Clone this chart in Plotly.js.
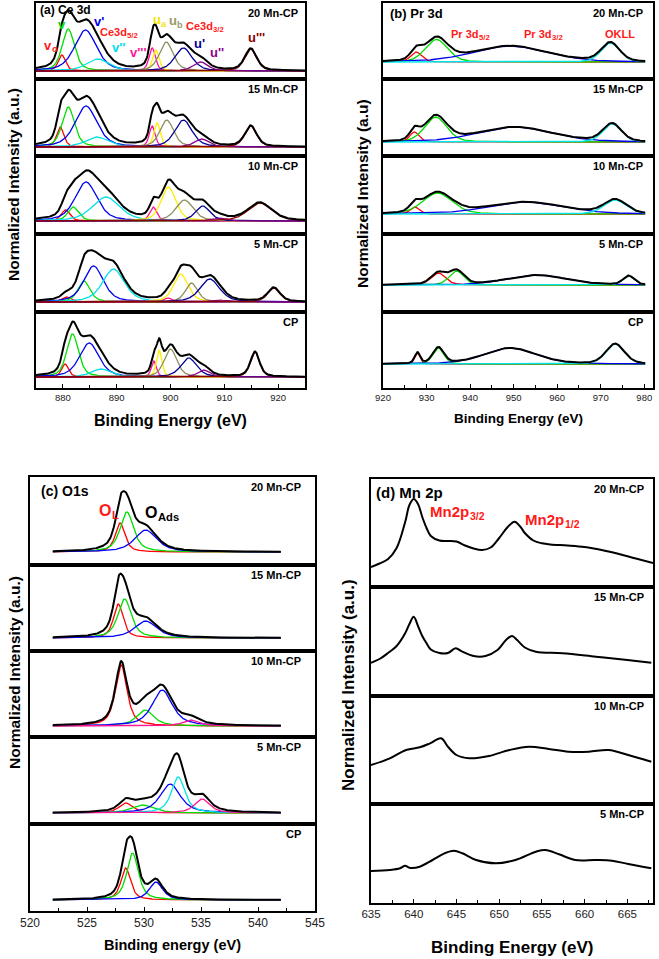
<!DOCTYPE html>
<html><head><meta charset="utf-8">
<script src="https://cdn.plot.ly/plotly-3.0.1.min.js"></script>
<style>html,body{margin:0;padding:0;background:#fff}</style>
</head><body><div id="chart" style="width:659px;height:959px"></div>
<script>
// ================= DATA =================
const sampleNames5 = ["20 Mn-CP", "15 Mn-CP", "10 Mn-CP", "5 Mn-CP", "CP"];
const sampleNames4 = ["20 Mn-CP", "15 Mn-CP", "10 Mn-CP", "5 Mn-CP"];

// (a) Ce 3d fitted components: centre (eV), height (a.u.), FWHM (eV)
const ceComponents = ["v0", "v", "v'", "v''", "v'''", "ua", "ub", "u'", "u''", "u'''"];
const ceCenters = [
  [879.8, 881.0, 884.2, 886.5, 896.6, 897.3, 899.2, 902.4, 905.6, 914.9],
  [879.5, 881.0, 884.3, 886.3, 896.6, 897.5, 899.3, 902.4, 905.8, 914.9],
  [880.5, 881.9, 884.3, 888.0, 896.8, 899.6, 902.6, 906.0, 908.9, 916.6],
  [880.7, 883.9, 885.7, 889.4, 899.5, 901.9, 903.9, 907.3, 909.0, 919.2],
  [880.4, 881.8, 884.9, 887.1, 896.9, 897.9, 900.0, 903.4, 906.2, 915.7]
];
const ceHeights = [
  [16, 42, 41, 12, 23, 21, 29, 23, 9, 22],
  [20, 40, 41, 10, 21, 24, 27, 27, 8, 21],
  [11, 14, 39, 24, 14, 34, 21, 15, 3, 18],
  [5, 21, 36, 33, 4, 28, 19, 23, 2, 14],
  [13, 43, 34, 8, 16, 27, 28, 19, 7, 25]
];
const ceWidths = [
  [1.6, 2.7, 4.8, 5.0, 1.4, 1.4, 3.0, 3.8, 3.2, 2.6],
  [1.6, 2.7, 4.8, 5.0, 1.3, 1.4, 3.0, 3.8, 3.2, 2.6],
  [1.9, 2.4, 4.8, 6.0, 1.6, 3.2, 3.8, 3.2, 3.2, 5.2],
  [2.1, 2.7, 4.3, 4.8, 1.6, 3.2, 2.7, 4.3, 3.2, 2.7],
  [1.5, 2.6, 4.3, 4.3, 1.1, 1.2, 2.8, 3.5, 2.7, 2.0]
];

// (b) Pr 3d fitted components
const prComponents = ["Pr3d5/2-a", "Pr3d5/2-b", "Pr3d3/2", "OKLL"];
const prCenters = [
  [927.6, 932.3, 949.2, 972.2],
  [927.2, 932.1, 950.2, 972.6],
  [927.3, 932.5, 952.6, 973.3],
  [932.7, 936.9, 955.3, 976.4],
  [927.9, 932.7, 949.2, 973.3]
];
const prHeights = [
  [10, 22.5, 16, 19],
  [10, 25, 15, 18],
  [7, 21, 12, 14],
  [12, 14, 10, 9],
  [11, 16, 16, 20]
];
const prWidths = [
  [3.0, 6.0, 20, 5.0],
  [2.5, 6.0, 20, 5.0],
  [2.5, 8.0, 20, 6.0],
  [4.0, 4.0, 16, 3.0],
  [1.5, 3.0, 14, 5.0]
];

// (c) O 1s fitted components (component keys differ per sample)
const oComponents = [
  ["OL", "O2", "OAds"],
  ["OL", "O2", "OAds"],
  ["OL", "O2", "OAds", "O4"],
  ["OL", "O2", "OAds", "O3", "O4"],
  ["OL", "O2", "OAds"]
];
const oCenters = [
  [527.9, 528.5, 530.15],
  [527.75, 528.3, 530.15],
  [528.0, 530.1, 531.6, 534.1],
  [528.4, 529.9, 532.3, 533.0, 535.1],
  [528.4, 529.0, 531.05]
];
const oHeights = [
  [29, 40, 22],
  [34, 39, 17],
  [61, 16, 36, 6],
  [10, 8, 29, 36, 14],
  [32, 47, 18]
];
const oWidths = [
  [1.0, 1.4, 2.3],
  [1.0, 1.4, 2.3],
  [1.2, 1.8, 2.1, 1.7],
  [1.4, 2.3, 2.1, 1.4, 1.6],
  [1.0, 1.2, 1.4]
];

// (d) Mn 2p spectra (binding energy, normalized intensity)
const mnEnergy = [
  [635, 636, 637, 638, 639, 639.5, 640, 640.5, 641, 641.5, 642, 643, 644, 645, 646, 647, 648, 649, 650, 651, 651.8, 652.5, 653, 654, 655, 656, 658, 660, 662, 664, 666, 668],
  [635, 636, 637, 638, 639, 639.5, 640, 640.5, 641, 641.5, 642, 643, 644, 644.9, 645.7, 647, 648.4, 649.8, 650.8, 651.5, 652.1, 653, 654.3, 657.4, 661.3, 665, 667.8],
  [635, 637.2, 639.1, 640.7, 641.9, 643.2, 644, 645, 646.5, 648.8, 651.2, 653.5, 655.8, 658.1, 660.5, 662.8, 665.1, 667.8],
  [635, 637.2, 638.4, 639, 639.5, 640.7, 642.2, 643.6, 644.7, 645.7, 647.3, 649.6, 651.9, 654.3, 655.4, 657, 658.9, 661.3, 663.2, 665.1, 667.8]
];
const mnIntensity = [
  [20, 23.5, 28, 39, 65, 82, 88, 83, 70, 59, 51, 46.5, 46, 45.5, 41.5, 38.5, 37, 39.5, 49, 60, 65.3, 60, 54, 46.5, 43.7, 42.5, 41.5, 40, 37, 33, 28.5, 24],
  [33.3, 37, 43, 50, 62.7, 72, 79.3, 70, 60, 52.7, 46.5, 43, 43, 47.7, 44.3, 40, 40, 46, 56, 60, 56, 48.5, 44.3, 42.7, 39.3, 36, 33.3],
  [39, 45.7, 54, 56.7, 60.7, 65.7, 57.3, 49, 45.7, 48, 54, 57.3, 55, 52.3, 52.3, 54, 49, 42.3],
  [32, 33, 34.7, 37.3, 35.3, 36.3, 43, 49.7, 52.3, 49.7, 43, 39.7, 43, 51.3, 53, 48.7, 43, 43, 42.3, 39, 34.7]
];

// ================= STYLE =================
const W = 659, H = 959;
const FONT = "Liberation Sans, Arial, sans-serif";
const colorMap = {
  "v0": "#ff0000", "v": "#00e000", "v'": "#0000ee", "v''": "#00e0e8", "v'''": "#ff1493",
  "ua": "#ffee00", "ub": "#8e8e5e", "u'": "#000099", "u''": "#8b008b", "u'''": "#8b0000",
  "Pr3d5/2-a": "#ff0000", "Pr3d5/2-b": "#00dd00", "Pr3d3/2": "#0000ee", "OKLL": "#00e5e5",
  "OL": "#ff0000", "O2": "#00dd00", "OAds": "#0000ff", "O3": "#00e5e5", "O4": "#ff1493"
};
const layoutPanels = {
  a: {left: 36, right: 305, rows: [3, 79, 156, 234, 312, 388], gaps: [8, 9, 13, 10, 11], range: [875, 925], dtick: 10, minor: 5, tickSize: 9.5, labelX: 300, eta: 0.5, xs: [875, 925, 0.1]},
  b: {left: 383, right: 653, rows: [3, 79, 156, 234, 312, 388], gaps: [17, 14, 20, 27, 24], range: [920, 982], dtick: 10, minor: 5, tickSize: 9.5, labelX: 645, eta: 0.3, xs: [920, 980.2, 0.1]},
  c: {left: 30, right: 315, rows: [477, 565, 651, 737, 824, 911], gaps: [13, 13, 11, 11, 11], range: [520, 545], dtick: 5, minor: 2.5, tickSize: 12, labelX: 303, eta: 0.7, xs: [522, 542, 0.05]},
  d: {left: 371, right: 653, rows: [479, 587, 696, 804, 903], gaps: [0, 0, 0, 0], range: [635, 668], dtick: 5, minor: 2.5, tickSize: 11.5, labelX: 646}
};

function pv(x, c, h, w, eta) {
  const r = (x - c) / w;
  return h * (eta / (1 + 4 * r * r) + (1 - eta) * Math.exp(-4 * Math.LN2 * r * r));
}
function grid(a, b, s) { const g = []; for (let v = a; v <= b + 1e-9; v += s) g.push(+v.toFixed(3)); return g; }

const traces = [];
const layout = {
  width: W, height: H, margin: {l: 0, r: 0, t: 0, b: 0}, paper_bgcolor: "#fff", plot_bgcolor: "#fff",
  showlegend: false, annotations: [], font: {family: FONT}
};
function ann(text, x, y, size, color, xanchor, angle) {
  layout.annotations.push({text: text, x: x / W, y: 1 - y / H, xref: "paper", yref: "paper",
    xanchor: xanchor || "left", yanchor: "middle", showarrow: false, textangle: angle || 0,
    font: {family: FONT, size: size, color: color, weight: "bold"}});
}
const measureCtx = document.createElement("canvas").getContext("2d");
function textWidth(t, size) {
  measureCtx.font = "bold " + size + "px 'Liberation Sans', Arial, sans-serif";
  return measureCtx.measureText(t).width;
}
// label with a subscript, drawn as two plain texts
function annSub(main, sub, x, y, size, color) {
  ann(main, x, y, size, color, "left");
  ann(sub, x + textWidth(main, size) + 0.5, y + 0.3 * size, Math.round(size * 0.7 * 10) / 10, color, "left");
}

let k = 0;
function addSubplot(P, i, n, sampleName) {
  k += 1;
  const top = P.rows[i], bot = P.rows[i + 1];
  const isBottom = (i === n - 1);
  const gap = P.gaps[i];
  const xa = {
    domain: [P.left / W, P.right / W], range: P.range, anchor: "y" + k,
    showline: true, mirror: true, linecolor: "#000", linewidth: 1.6, showgrid: false, zeroline: false,
    ticks: isBottom ? "inside" : "", ticklen: 4, tickcolor: "#000", tickwidth: 1,
    showticklabels: isBottom, tick0: 0, dtick: P.dtick,
    tickfont: {family: FONT, size: P.tickSize, color: "#222"}
  };
  if (isBottom) xa.minor = {ticks: "inside", dtick: P.minor, tick0: 0, ticklen: 3, tickcolor: "#000", showgrid: false};
  layout["xaxis" + k] = xa;
  layout["yaxis" + k] = {
    domain: [1 - bot / H, 1 - top / H], range: [-gap, (bot - top) - gap], anchor: "x" + k,
    showline: true, mirror: true, linecolor: "#000", linewidth: 1.6, showgrid: false, zeroline: false,
    showticklabels: false, ticks: ""
  };
  ann(sampleName, P.labelX, top + 10, 11, "#000", "right");
  return k;
}

function addFitted(P, i, n, sampleName, keys, centers, heights, widths) {
  const id = addSubplot(P, i, n, sampleName);
  const xs = grid(P.xs[0], P.xs[1], P.xs[2]);
  const env = xs.map(() => 0);
  keys.forEach((key, j) => {
    const ys = xs.map(x => pv(x, centers[j], heights[j], widths[j], P.eta));
    ys.forEach((v, m) => env[m] += v);
    traces.push({x: xs, y: ys, xaxis: "x" + id, yaxis: "y" + id, mode: "lines", type: "scatter",
      line: {color: colorMap[key], width: 1.3}, hoverinfo: "skip"});
  });
  traces.push({x: xs, y: env, xaxis: "x" + id, yaxis: "y" + id, mode: "lines", type: "scatter",
    line: {color: "#000", width: 2}, hoverinfo: "skip"});
}

// (a)
sampleNames5.forEach((s, i) => addFitted(layoutPanels.a, i, 5, s, ceComponents, ceCenters[i], ceHeights[i], ceWidths[i]));
// (b)
sampleNames5.forEach((s, i) => addFitted(layoutPanels.b, i, 5, s, prComponents, prCenters[i], prHeights[i], prWidths[i]));
// (c)
sampleNames5.forEach((s, i) => addFitted(layoutPanels.c, i, 5, s, oComponents[i], oCenters[i], oHeights[i], oWidths[i]));
// (d)
sampleNames4.forEach((s, i) => {
  const id = addSubplot(layoutPanels.d, i, 4, s);
  traces.push({x: mnEnergy[i], y: mnIntensity[i], xaxis: "x" + id, yaxis: "y" + id, mode: "lines", type: "scatter",
    line: {color: "#000", width: 2, shape: "spline", smoothing: 1}, hoverinfo: "skip"});
});

// Panel titles and peak labels
const RED = "#ff1a1a";
ann("(a) Ce 3d", 38, 10, 12, "#000");
annSub("v", "o", 42, 45, 13, RED);
ann("v", 56, 25, 13, "#00dd00");
ann("v'", 92, 22, 13, "#0000ee");
annSub("Ce3d", "5/2", 98, 32, 11, RED);
ann("v''", 110, 47, 13, "#00e0e8");
ann("v'''", 128, 52, 13, "#ff1493");
annSub("u", "a", 151, 20, 13, "#f5e400");
annSub("u", "b", 167, 21, 13, "#9a9a6a");
annSub("Ce3d", "3/2", 184, 26, 11, RED);
ann("u'", 192, 43, 13, "#000099");
ann("u''", 208, 52, 13, "#8b008b");
ann("u'''", 246, 38, 13, "#8b0000");

ann("(b) Pr 3d", 388, 14, 13, "#000");
annSub("Pr 3d", "5/2", 449, 34, 11, RED);
annSub("Pr 3d", "3/2", 522, 34, 11, RED);
ann("OKLL", 603, 34, 11, RED);

ann("(c) O1s", 39, 491, 14, "#000");
annSub("O", "L", 97, 510, 16, RED);
annSub("O", "Ads", 143, 512, 16, "#000");

ann("(d) Mn 2p", 374, 492, 15, "#000");
annSub("Mn2p", "3/2", 428, 511, 15, RED);
annSub("Mn2p", "1/2", 523, 519, 15, RED);

// Axis titles
ann("Normalized Intensity (a.u.)", 13, 185, 15.5, "#000", "center", -90);
ann("Normalized Intensity (a.u)", 363, 194, 15.5, "#000", "center", -90);
ann("Normalized Intensity (a.u.)", 14, 673, 15.5, "#000", "center", -90);
ann("Normalized Intensity (a.u.)", 348, 685, 17, "#000", "center", -90);
ann("Binding Energy (eV)", 170, 420, 16, "#000", "center");
ann("Binding Energy (eV)", 518, 418, 13.5, "#000", "center");
ann("Binding energy (eV)", 172, 945, 14.5, "#000", "center");
ann("Binding Energy (eV)", 512, 947, 17, "#000", "center");

Plotly.newPlot("chart", traces, layout, {staticPlot: true, displayModeBar: false});
</script>
</body></html>
